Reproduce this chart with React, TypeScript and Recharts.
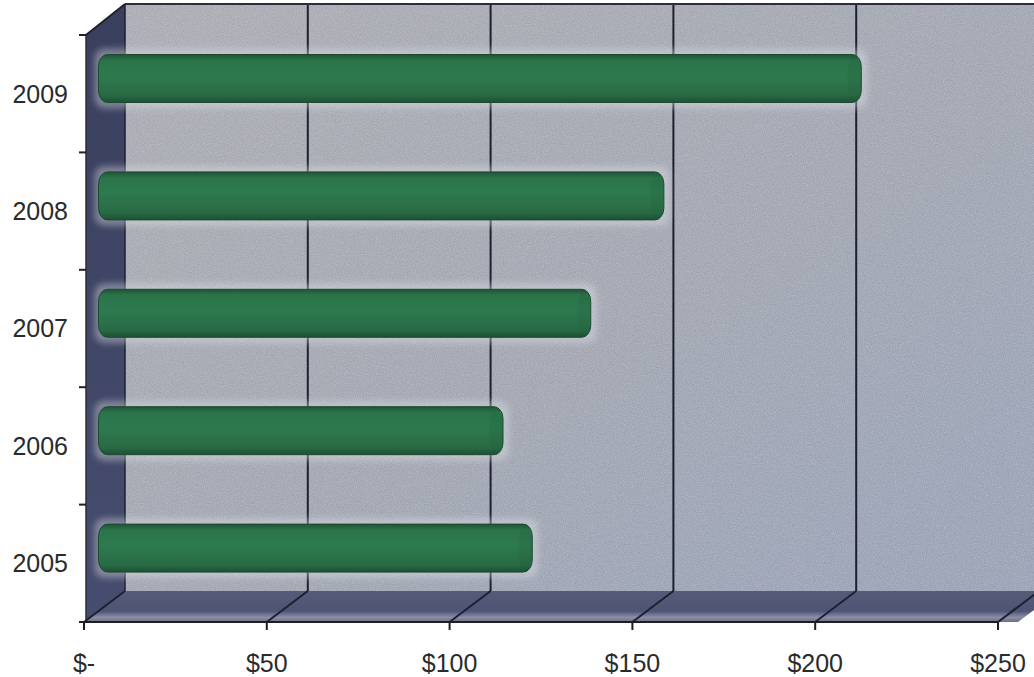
import React from 'react';
import { BarChart, Bar, XAxis, YAxis, ReferenceArea } from 'recharts';

const years = ['2005', '2006', '2007', '2008', '2009'];
const amounts = [117, 109, 133, 153, 207];
const xTicks = [0, 50, 100, 150, 200, 250];
const X_MAX = 250;

const data = years.map((year, i) => ({ year, value: amounts[i] }));

// 3D depth offset of the back wall relative to the front plane
const DX = 41;
const DY = -31;

const FONT = '"Liberation Sans", Arial, sans-serif';

function Walls(props: any) {
  const { x, y, width, height } = props;
  if (x == null || width == null) return null;
  const k = width / X_MAX;
  const bx = x + DX;
  const by = y + DY;
  const bottom = y + height;
  const bBottom = bottom + DY;
  const bands = years.length;
  const bandH = height / bands;
  const gridVals = xTicks.filter((v) => v > 0);
  return (
    <g>
      {/* back wall */}
      <rect x={bx} y={by} width={width + 20} height={height} fill="url(#wallGrad)" />
      <rect x={bx} y={by} width={width + 20} height={height} fill="#ffffff" filter="url(#noise)" opacity={0.5} />
      {/* side wall */}
      <polygon
        points={`${x + 2},${y} ${bx},${by} ${bx},${bBottom} ${x + 2},${bottom}`}
        fill="url(#sideGrad)"
      />
      {/* floor */}
      <polygon
        points={`${x},${bottom} ${bx},${bBottom} ${bx + width + 20},${bBottom} ${x + width + 20},${bottom}`}
        fill="url(#floorGrad)"
      />
      {/* grid lines on back wall and floor */}
      {gridVals.map((v) => {
        const fx = x + v * k;
        const gx = bx + v * k;
        return (
          <g key={v}>
            <line x1={gx} y1={by} x2={gx} y2={bBottom} stroke="#1c2030" strokeWidth={2} />
            <line x1={gx} y1={bBottom} x2={fx} y2={bottom} stroke="#1c2030" strokeWidth={2} />
          </g>
        );
      })}
      {/* outline edges */}
      <line x1={bx} y1={by} x2={bx + width + 20} y2={by} stroke="#2a2d3a" strokeWidth={2} />
      <line x1={bx} y1={by} x2={bx} y2={bBottom} stroke="#1c2030" strokeWidth={1.5} />
      <line x1={x + 2} y1={y} x2={bx} y2={by} stroke="#1c2030" strokeWidth={2} />
      <line x1={x + 2} y1={y} x2={x + 2} y2={bottom} stroke="#2a2d3a" strokeWidth={1.5} />
      <line x1={x} y1={bottom} x2={bx} y2={bBottom} stroke="#1c2030" strokeWidth={2} />
      {/* y ticks at band boundaries */}
      {Array.from({ length: bands + 1 }, (_, i) => (
        <line key={i} x1={x - 5} y1={y + i * bandH} x2={x + 2} y2={y + i * bandH} stroke="#222" strokeWidth={2} />
      ))}
    </g>
  );
}

function CylinderBar(props: any) {
  const { x, y, width, height } = props;
  if (x == null || width == null) return null;
  const left = x + DX / 2 - 6;
  const top = y + DY / 2;
  const w = width + 6;
  const right = x + width + DX / 2;
  return (
    <g>
      <rect
        x={left - 4}
        y={top - 6}
        width={w + 10}
        height={height + 12}
        rx={10}
        fill="#dfe2e6"
        opacity={0.4}
        filter="url(#halo)"
      />
      <rect x={left} y={top} width={w} height={height} rx={9} ry={12} fill="url(#barGrad)" stroke="#1d4a31" strokeWidth={1} />
      <ellipse cx={right - 7} cy={top + height / 2} rx={7} ry={height / 2 - 2} fill="#1f5a38" opacity={0.18} />
    </g>
  );
}

export default function App() {
  return (
    <div style={{ position: 'absolute', left: 0, top: 0, width: 1034, height: 677, background: '#fff', overflow: 'hidden' }}>
      <BarChart
        width={1034}
        height={677}
        layout="vertical"
        data={data}
        margin={{ top: 35, right: 36, bottom: 0, left: 0 }}
      >
        <defs>
          <linearGradient id="wallGrad" x1="0" y1="0" x2="1" y2="1">
            <stop offset="0%" stopColor="#a9abb1" />
            <stop offset="50%" stopColor="#a1a5b0" />
            <stop offset="100%" stopColor="#97a0b5" />
          </linearGradient>
          <linearGradient id="sideGrad" x1="0" y1="0" x2="0" y2="1">
            <stop offset="0%" stopColor="#3a3f5e" />
            <stop offset="100%" stopColor="#474d6e" />
          </linearGradient>
          <linearGradient id="floorGrad" x1="0" y1="0" x2="0" y2="1">
            <stop offset="0%" stopColor="#565b7a" />
            <stop offset="65%" stopColor="#4f5474" />
            <stop offset="85%" stopColor="#8a8fa6" />
            <stop offset="100%" stopColor="#6a6f88" />
          </linearGradient>
          <linearGradient id="barGrad" x1="0" y1="0" x2="0" y2="1">
            <stop offset="0%" stopColor="#1f5235" />
            <stop offset="12%" stopColor="#2b7449" />
            <stop offset="45%" stopColor="#2e7a4f" />
            <stop offset="85%" stopColor="#286a44" />
            <stop offset="100%" stopColor="#1d5034" />
          </linearGradient>
          <filter id="halo" x="-10%" y="-50%" width="120%" height="200%">
            <feGaussianBlur stdDeviation="3" />
          </filter>
          <filter id="noise" x="0" y="0" width="100%" height="100%">
            <feTurbulence type="fractalNoise" baseFrequency="0.9" numOctaves="2" seed="3" />
            <feColorMatrix type="matrix" values="0 0 0 0 1  0 0 0 0 1  0 0 0 0 1  0 0 0 0.8 -0.25" />
          </filter>
        </defs>
        <XAxis
          type="number"
          dataKey="value"
          domain={[0, X_MAX]}
          ticks={xTicks}
          interval={0}
          allowDataOverflow
          height={55}
          tickSize={8}
          tickMargin={24}
          stroke="#1e1e1e"
          axisLine={{ stroke: '#1e1e1e', strokeWidth: 2 }}
          tickLine={{ stroke: '#1e1e1e', strokeWidth: 2 }}
          tick={{ fill: '#2b2b2b', fontSize: 25, fontFamily: FONT }}
          tickFormatter={(v: number) => (v === 0 ? '$-' : `$${v}`)}
        />
        <YAxis
          type="category"
          dataKey="year"
          reversed
          width={84}
          interval={0}
          axisLine={false}
          tickLine={false}
          tickSize={0}
          tickMargin={16}
          tick={{ fill: '#2b2b2b', fontSize: 25, fontFamily: FONT }}
        />
        <ReferenceArea x1={0} x2={X_MAX} shape={<Walls />} ifOverflow="visible" />
        <Bar dataKey="value" barSize={48} shape={<CylinderBar />} isAnimationActive={false} />
      </BarChart>
    </div>
  );
}
